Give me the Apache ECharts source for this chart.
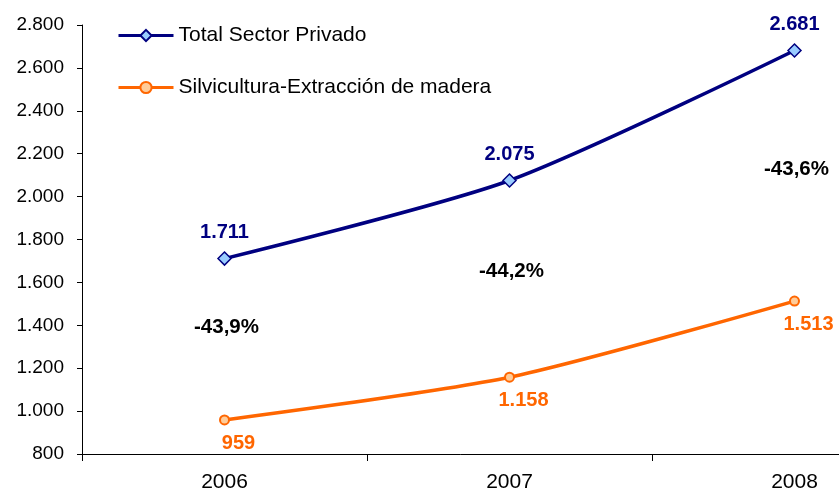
<!DOCTYPE html>
<html>
<head>
<meta charset="utf-8">
<script src="https://cdn.jsdelivr.net/npm/echarts@6/dist/echarts.min.js"></script>
<style>
html, body { margin: 0; padding: 0; background: #fff; }
#chart { width: 839px; height: 493px; }
</style>
</head>
<body>
<div id="chart"></div>
<script>
var years = ['2006', '2007', '2008'];
var totalPrivado = [1711, 2075, 2681];
var silvicultura = [959, 1158, 1513];
var pctLabels = ['-43,9%', '-44,2%', '-43,6%'];
var pctLevels = [1390, 1650, 2126];

// 2681 -> 2.681
function miles(v) {
	return String(v).replace(/\B(?=(\d{3})+(?!\d))/g, '.');
}

var myChart = echarts.init(document.getElementById('chart'));
var font = 'Liberation Sans, Arial, sans-serif';

var option = {
	backgroundColor: '#fff',
	animation: false,
	textStyle: { fontFamily: font },
	legend: {
		orient: 'vertical',
		left: 112,
		top: 20,
		itemWidth: 55,
		itemHeight: 14,
		itemGap: 31,
		lineStyle: { width: 3 },
		textStyle: { fontSize: 21, color: '#000', fontFamily: font },
		data: ['Total Sector Privado', 'Silvicultura-Extracción de madera']
	},
	// el área sigue a la derecha del lienzo (2008 queda cortado)
	grid: { left: 82, width: 855, top: 25, bottom: 39, outerBoundsMode: 'none', containLabel: false },
	xAxis: {
		type: 'category',
		data: years,
		boundaryGap: true,
		axisLine: { lineStyle: { color: '#000', width: 1 } },
		axisTick: { show: true, length: 7, lineStyle: { color: '#000' } },
		axisLabel: { fontSize: 21, color: '#000', margin: 18, fontFamily: font }
	},
	yAxis: {
		type: 'value',
		min: 800,
		max: 2800,
		interval: 200,
		axisLine: { show: true, lineStyle: { color: '#000', width: 1 } },
		axisTick: { show: true, length: 5, lineStyle: { color: '#000' } },
		splitLine: { show: false },
		axisLabel: {
			fontSize: 19, color: '#000', margin: 18, fontFamily: font,
			formatter: function (v) { return miles(v); }
		}
	},
	series: [{
		name: 'Total Sector Privado',
		type: 'line',
		data: totalPrivado,
		smooth: 0.25,
		symbol: 'diamond',
		symbolSize: 13,
		lineStyle: { color: '#000080', width: 3.5 },
		itemStyle: { color: '#99CCFF', borderColor: '#000080', borderWidth: 1.5 },
		label: {
			show: true,
			position: 'top',
			distance: 9,
			fontSize: 20,
			fontWeight: 'bold',
			color: '#000080',
			fontFamily: font,
			formatter: function (p) { return miles(p.value); }
		}
	}, {
		name: 'Silvicultura-Extracción de madera',
		type: 'line',
		data: silvicultura,
		smooth: 0.25,
		symbol: 'circle',
		symbolSize: 9,
		lineStyle: { color: '#FF6600', width: 3.5 },
		itemStyle: { color: '#FFCC99', borderColor: '#FF6600', borderWidth: 2 },
		label: {
			show: true,
			position: 'bottom',
			distance: 8,
			offset: [14, 0],
			fontSize: 20,
			fontWeight: 'bold',
			color: '#FF6600',
			fontFamily: font,
			formatter: function (p) { return miles(p.value); }
		}
	}, {
		name: 'pct',
		type: 'scatter',
		data: pctLevels,
		symbolSize: 1,
		silent: true,
		itemStyle: { color: 'rgba(0,0,0,0)', opacity: 1 },
		label: {
			show: true,
			position: 'inside',
			offset: [2, 0],
			fontSize: 20.5,
			fontWeight: 'bold',
			color: '#000',
			textBorderWidth: 0,
			fontFamily: font,
			formatter: function (p) { return pctLabels[p.dataIndex]; }
		}
	}]
};
myChart.setOption(option);
</script>
</body>
</html>
